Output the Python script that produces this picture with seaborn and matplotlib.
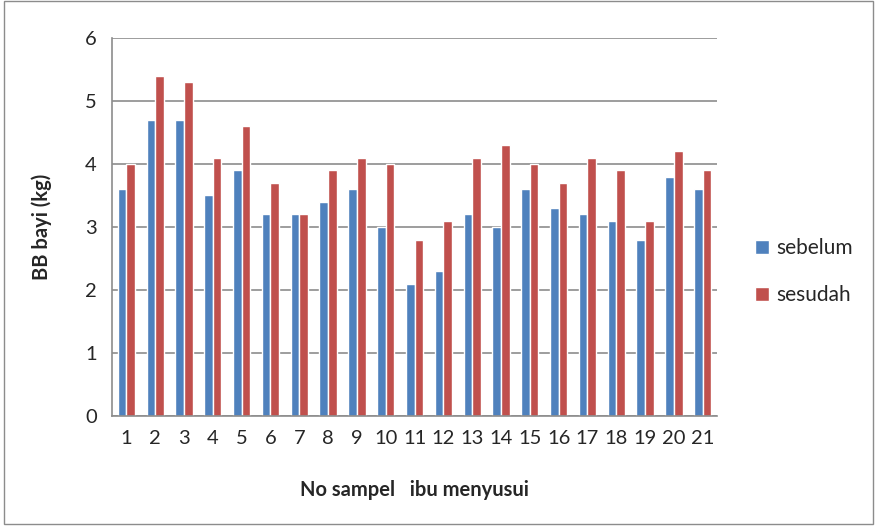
import matplotlib
matplotlib.use("Agg")
import matplotlib.pyplot as plt
import seaborn as sns
import pandas as pd
from matplotlib.patches import Rectangle

# data
samples = [str(i) for i in range(1, 22)]
sebelum = [3.6, 4.7, 4.7, 3.5, 3.9, 3.2, 3.2, 3.4, 3.6, 3.0, 2.1,
           2.3, 3.2, 3.0, 3.6, 3.3, 3.2, 3.1, 2.8, 3.8, 3.6]
sesudah = [4.0, 5.4, 5.3, 4.1, 4.6, 3.7, 3.2, 3.9, 4.1, 4.0, 2.8,
           3.1, 4.1, 4.3, 4.0, 3.7, 4.1, 3.9, 3.1, 4.2, 3.9]
series_names = ["sebelum", "sesudah"]
colors = ["#4F81BD", "#C0504D"]

df = pd.DataFrame({
    "sampel": samples * 2,
    "bb": sebelum + sesudah,
    "waktu": [series_names[0]] * len(samples) + [series_names[1]] * len(samples),
})

sns.set_style("white")
plt.rcParams["font.family"] = ["Lato", "DejaVu Sans"]

fig = plt.figure(figsize=(8.77, 5.28), dpi=100)
ax = fig.add_axes([0.1277, 0.2121, 0.69, 0.716])

sns.barplot(data=df, x="sampel", y="bb", hue="waktu", palette=colors,
            width=0.6, saturation=1, ax=ax, legend=True, errorbar=None)

ax.set_ylim(0, 6)
ax.set_yticks(range(0, 7))
ax.set_xlim(-0.5, len(samples) - 0.5)
ax.yaxis.grid(True, color="#8c8c8c", linewidth=1.2)
ax.set_axisbelow(True)
for s in ["top", "right"]:
    ax.spines[s].set_visible(False)
for s in ["left", "bottom"]:
    ax.spines[s].set_color("#8c8c8c")
    ax.spines[s].set_linewidth(1.2)
ax.tick_params(axis="y", length=5, color="#8c8c8c", labelsize=14.5, pad=6)
ax.tick_params(axis="x", length=0, labelsize=14.5, pad=10)

ax.set_ylabel("BB bayi (kg)", fontsize=14.5, fontweight="bold", labelpad=24)
ax.set_xlabel("No sampel   ibu menyusui", fontsize=14.5, fontweight="bold", labelpad=24)

handles, labels = ax.get_legend_handles_labels()
ax.get_legend().remove()
fig.legend(handles, labels, loc="center left", bbox_to_anchor=(0.84, 0.485),
           frameon=False, fontsize=15, handlelength=0.65, handleheight=0.65,
           labelspacing=1.3, handletextpad=0.35)

fig.patches.append(Rectangle((0.004, 0.008), 0.992, 0.99, transform=fig.transFigure,
                             fill=False, edgecolor="#8c8c8c", linewidth=1))

fig.savefig("out.png", dpi=100)
